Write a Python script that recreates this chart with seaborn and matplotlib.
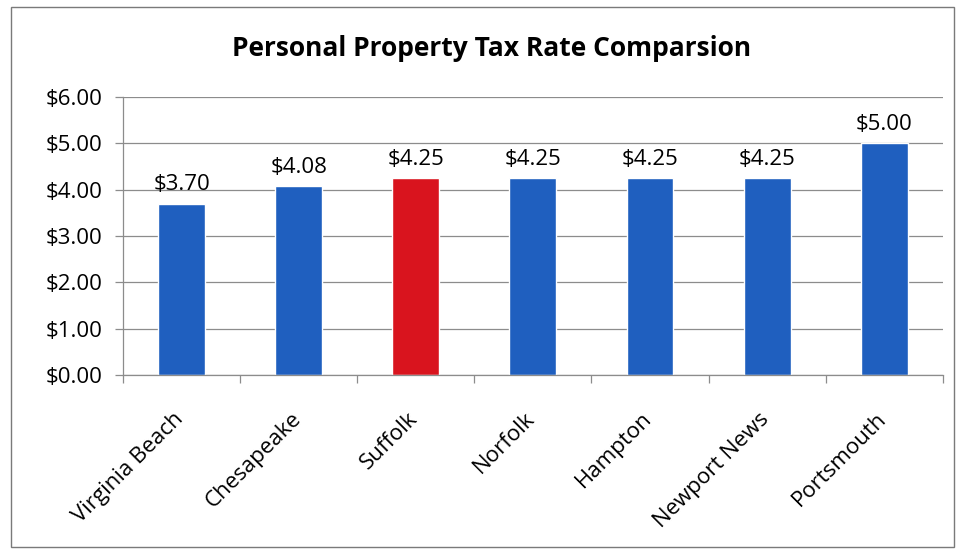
import numpy as np
import pandas as pd
import seaborn as sns
import matplotlib.pyplot as plt
import matplotlib.transforms as mtransforms
from matplotlib.patches import Rectangle
from matplotlib.ticker import FixedLocator

cities = ["Virginia Beach", "Chesapeake", "Suffolk", "Norfolk",
          "Hampton", "Newport News", "Portsmouth"]
rates = [3.70, 4.08, 4.25, 4.25, 4.25, 4.25, 5.00]
bar_colors = ["#1f5fbf", "#1f5fbf", "#d9141e", "#1f5fbf",
              "#1f5fbf", "#1f5fbf", "#1f5fbf"]
yticks = [0, 1, 2, 3, 4, 5, 6]

sns.set_theme(style="white")
plt.rcParams['font.family'] = ['Open Sans', 'DejaVu Sans']
plt.rcParams['text.color'] = 'black'
plt.rcParams['xtick.color'] = 'black'
plt.rcParams['ytick.color'] = 'black'

df = pd.DataFrame({"city": cities, "rate": rates})

fig = plt.figure(figsize=(9.61, 5.54), dpi=100)
ax = fig.add_axes([0.128, 0.323, 0.853, 0.502])

sns.barplot(data=df, x="city", y="rate", hue="city", palette=bar_colors,
            width=0.4, legend=False, saturation=1, ax=ax)

ax.set_ylim(0, 6)
ax.set_xlim(-0.5, len(cities) - 0.5)
ax.set_yticks(yticks)
ax.set_yticklabels([f"${v:.2f}" for v in yticks], fontsize=16)
ax.yaxis.grid(True, color="#8c8c8c", linewidth=0.9)
ax.set_axisbelow(True)

ax.set_xticks(range(len(cities)))
ax.set_xticklabels(cities, rotation=45, ha="right", rotation_mode="anchor", fontsize=16)
ax.xaxis.set_minor_locator(FixedLocator(np.arange(-0.5, len(cities), 1.0)))
ax.tick_params(axis="x", which="major", length=0, pad=24, labelcolor="black")
ax.tick_params(axis="x", which="minor", length=6, color="#8c8c8c", width=0.9, bottom=True)
ax.tick_params(axis="y", length=6, color="#8c8c8c", width=0.9, left=True, pad=9,
               labelcolor="black")

# nudge rotated category labels slightly left
shift = mtransforms.ScaledTranslation(-6 / 72, 0, fig.dpi_scale_trans)
for lbl in ax.get_xticklabels():
    lbl.set_transform(lbl.get_transform() + shift)

for side in ["top", "right"]:
    ax.spines[side].set_visible(False)
for side in ["left", "bottom"]:
    ax.spines[side].set_color("#8c8c8c")
    ax.spines[side].set_linewidth(0.9)

ax.set_xlabel("")
ax.set_ylabel("")

for i, v in enumerate(rates):
    ax.text(i, v + 0.18, f"${v:.2f}", ha="center", va="bottom", fontsize=16, color="black")

fig.text(0.512, 0.913, "Personal Property Tax Rate Comparsion", ha="center",
         va="center", fontsize=19, fontweight="bold", color="black")

fig.patches.append(Rectangle((0.011, 0.012), 0.982, 0.976, transform=fig.transFigure,
                             fill=False, edgecolor="#7a7a7a", linewidth=1.0))

fig.savefig("out.png", dpi=100)
